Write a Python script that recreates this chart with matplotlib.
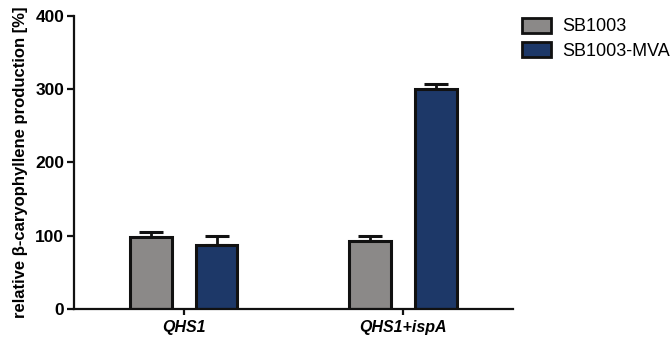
import matplotlib
matplotlib.use('Agg')
import matplotlib.pyplot as plt
from matplotlib.patches import Patch
import numpy as np

plt.rcParams['font.family'] = ['Liberation Sans', 'DejaVu Sans']

# data
groups = ['QHS1', 'QHS1+ispA']
series = ['SB1003', 'SB1003-MVA']
sb1003 = [98, 93]
sb1003_err = [7, 6]
mva = [88, 300]
mva_err = [11, 7]

gray = '#8b8988'
navy = '#1d3868'

fig = plt.figure(figsize=(6.72, 3.37), dpi=100)
ax = fig.add_axes([0.110, 0.083, 0.653, 0.870])

x = np.arange(len(groups))
w = 0.19
off = 0.15
for vals, errs, col, xs in [(sb1003, sb1003_err, gray, x - off),
                            (mva, mva_err, navy, x + off)]:
    ax.bar(xs, vals, width=w, color=col, edgecolor='#111111', linewidth=2.2, zorder=2)
    ax.errorbar(xs, vals, yerr=[np.zeros(len(vals)), errs], fmt='none',
                ecolor='#111111', elinewidth=2, capsize=8.5, capthick=2.2, zorder=1)

ax.set_xlim(-0.5, 1.5)
ax.set_ylim(0, 400)
ax.set_yticks([0, 100, 200, 300, 400])
ax.set_xticks(x)
ax.set_xticklabels(groups, fontsize=11.5, fontweight='bold', style='italic')
for lab in ax.get_yticklabels():
    lab.set_fontsize(12.5)
    lab.set_fontweight('bold')
ax.tick_params(axis='y', width=1.6, length=5, color='#111111', pad=2)
ax.tick_params(axis='x', width=1.6, length=4, color='#111111', pad=4)

for s in ['top', 'right']:
    ax.spines[s].set_visible(False)
for s in ['left', 'bottom']:
    ax.spines[s].set_linewidth(1.6)
    ax.spines[s].set_color('#111111')

ax.set_ylabel('relative β-caryophyllene production [%]', fontsize=12,
              fontweight='bold', labelpad=5)

handles = [Patch(facecolor=gray, edgecolor='#111111', linewidth=2),
           Patch(facecolor=navy, edgecolor='#111111', linewidth=2)]
fig.legend(handles, series, loc='upper left', bbox_to_anchor=(0.777, 0.948),
           frameon=False, fontsize=13, handlelength=1.6, handleheight=0.9,
           handletextpad=0.6, labelspacing=0.4, borderpad=0, borderaxespad=0)

fig.savefig('out.png', dpi=100, facecolor='white')
